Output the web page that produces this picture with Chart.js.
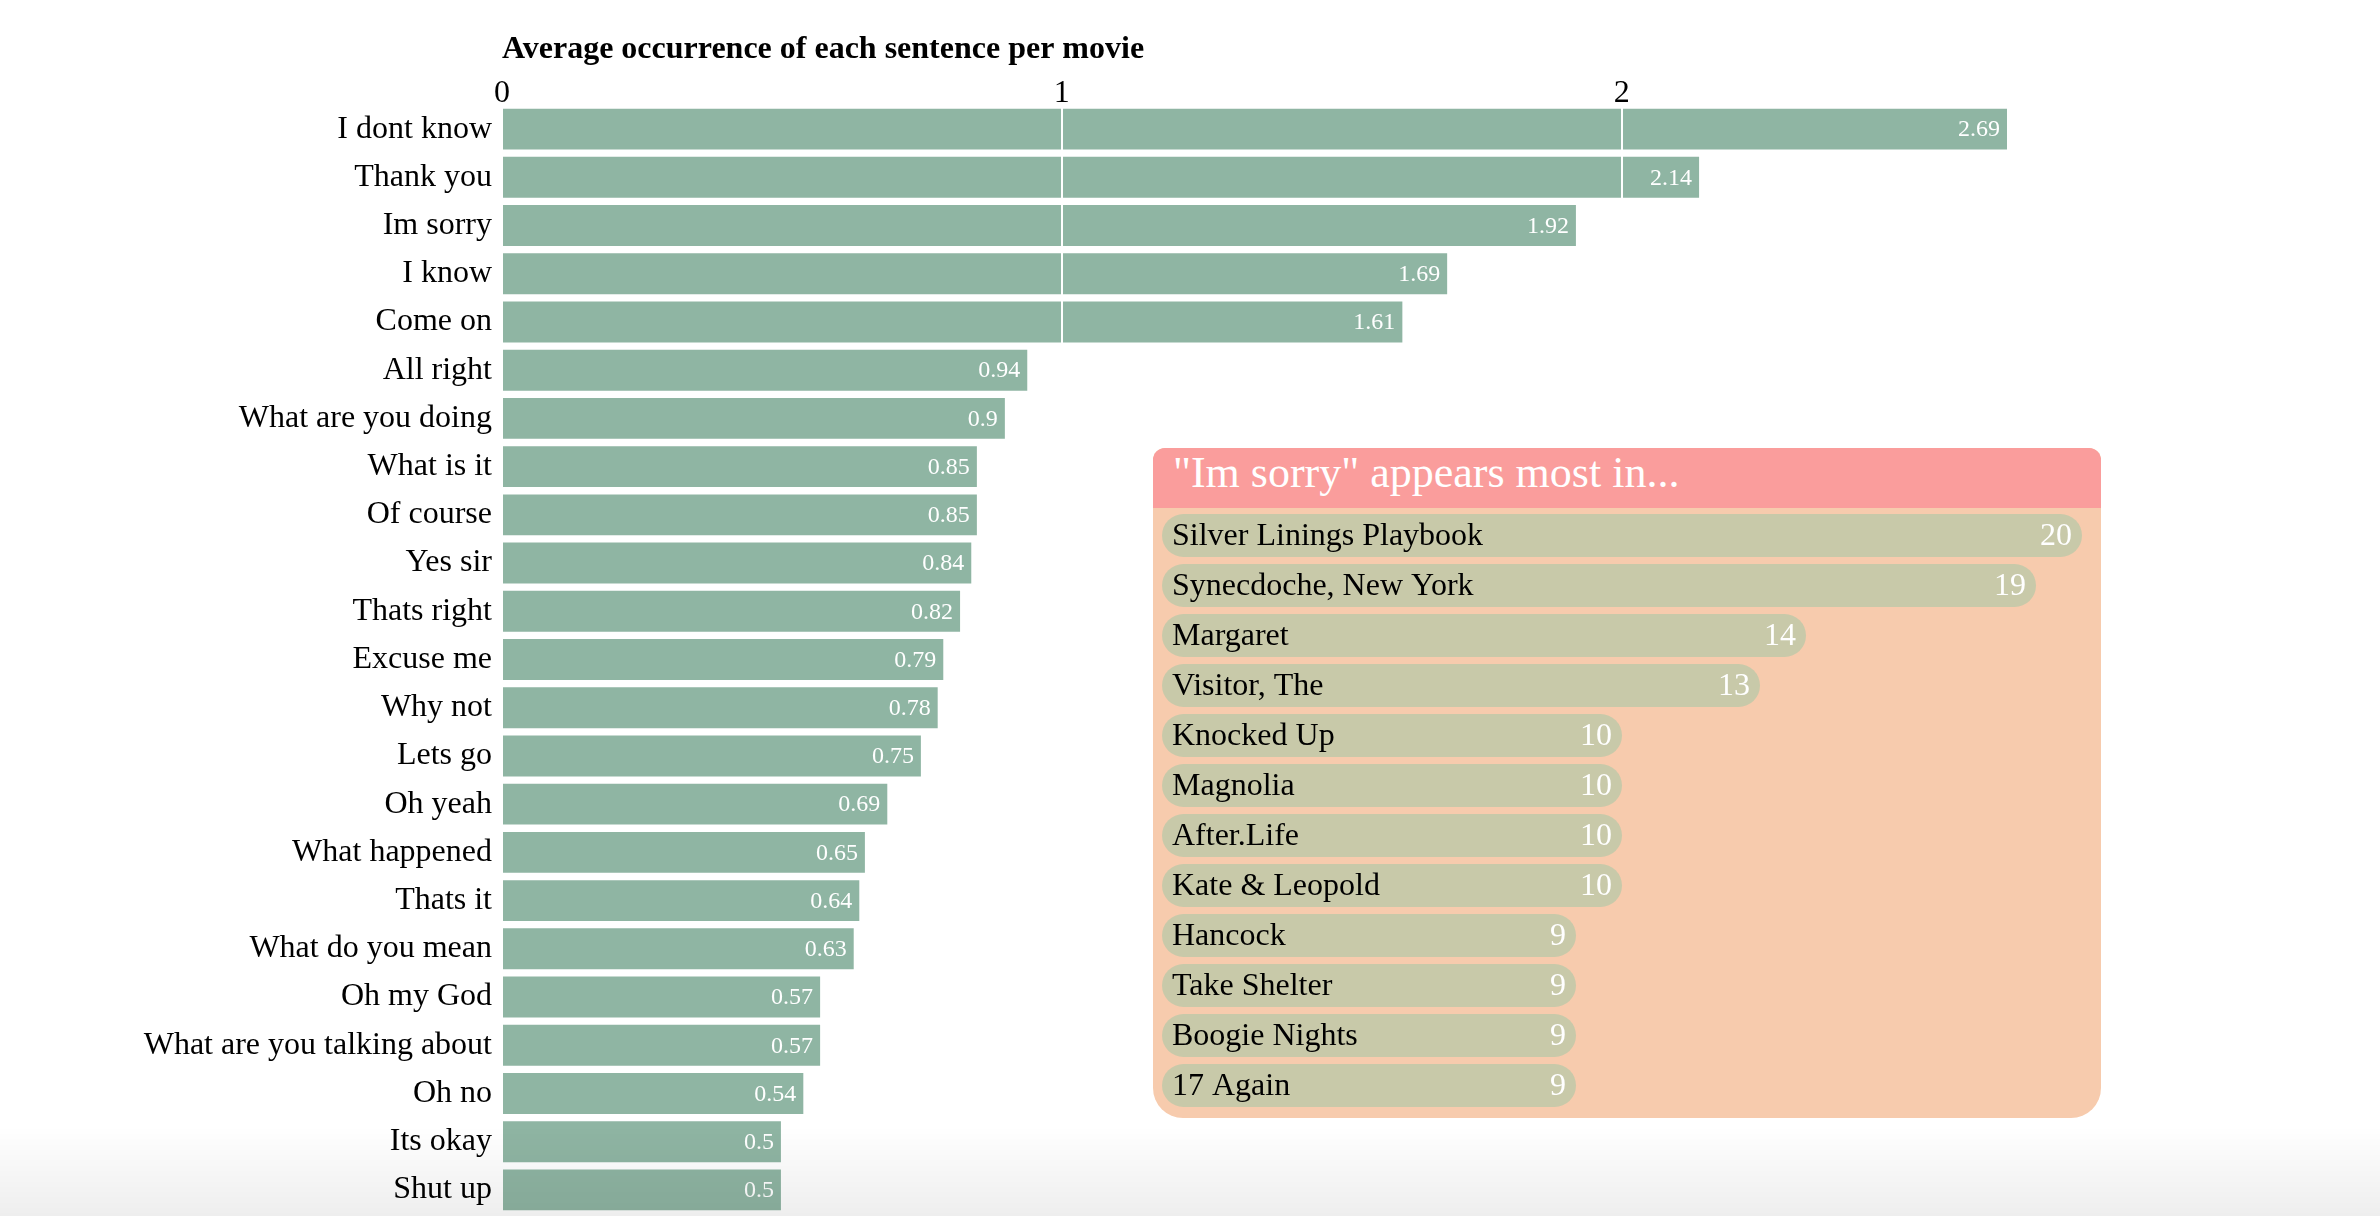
<!DOCTYPE html>
<html>
<head>
<meta charset="utf-8">
<title>Average occurrence of each sentence per movie</title>
<script src="https://cdn.jsdelivr.net/npm/chart.js@4.4.1/dist/chart.umd.min.js"></script>
<style>
  html, body { margin: 0; padding: 0; background: #fff; overflow: hidden; }
  body { width: 2380px; height: 1216px; position: relative; font-family: "Liberation Serif", serif; }
  #main { position: absolute; left: 0; top: 0; }
  #panel {
    position: absolute; left: 1153px; top: 448px; width: 948px; height: 670px;
    background: #f7cbad; border-radius: 12px 12px 30px 30px; overflow: hidden;
  }
  #panel-head {
    height: 60px; line-height: 50px; background: #fa9d9c; color: #fff;
    font-size: 44px; padding-left: 20px; white-space: nowrap;
  }
  #movies { position: absolute; left: 0; top: 60px; }
  #shade {
    position: absolute; left: 0; bottom: 0; width: 2380px; height: 90px; pointer-events: none;
    background: linear-gradient(to bottom, rgba(0,0,0,0), rgba(0,0,0,0.065));
  }
</style>
</head>
<body>
<canvas id="main" width="2380" height="1216"></canvas>
<div id="panel">
  <div id="panel-head"></div>
  <canvas id="movies" width="948" height="610"></canvas>
</div>
<div id="shade"></div>
<script>
const chartTitle = "Average occurrence of each sentence per movie";

const sentences = [
  "I dont know", "Thank you", "Im sorry", "I know", "Come on", "All right",
  "What are you doing", "What is it", "Of course", "Yes sir", "Thats right",
  "Excuse me", "Why not", "Lets go", "Oh yeah", "What happened", "Thats it",
  "What do you mean", "Oh my God", "What are you talking about", "Oh no",
  "Its okay", "Shut up"
];
const avgOccurrence = [
  2.69, 2.14, 1.92, 1.69, 1.61, 0.94, 0.9, 0.85, 0.85, 0.84, 0.82,
  0.79, 0.78, 0.75, 0.69, 0.65, 0.64, 0.63, 0.57, 0.57, 0.54, 0.5, 0.5
];

const focusSentence = "Im sorry";
const movies = [
  "Silver Linings Playbook", "Synecdoche, New York", "Margaret", "Visitor, The",
  "Knocked Up", "Magnolia", "After.Life", "Kate & Leopold",
  "Hancock", "Take Shelter", "Boogie Nights", "17 Again"
];
const movieCounts = [20, 19, 14, 13, 10, 10, 10, 10, 9, 9, 9, 9];

const FONT = "Liberation Serif";
Chart.defaults.font.family = FONT;

document.getElementById("panel-head").textContent = '"' + focusSentence + '" appears most in...';

// title + value labels for the main bars
const mainDecor = {
  id: "mainDecor",
  afterDraw(chart) {
    const ctx = chart.ctx;
    const area = chart.chartArea;
    ctx.save();
    ctx.fillStyle = "#000";
    ctx.font = "bold 32px " + FONT;
    ctx.textAlign = "left";
    ctx.textBaseline = "alphabetic";
    ctx.fillText(chartTitle, area.left, 58);

    ctx.fillStyle = "#fff";
    ctx.font = "24px " + FONT;
    ctx.textAlign = "right";
    ctx.textBaseline = "middle";
    chart.getDatasetMeta(0).data.forEach((bar, i) => {
      ctx.fillText(String(avgOccurrence[i]), bar.x - 8, bar.y + 1);
    });
    ctx.restore();
  }
};

new Chart(document.getElementById("main"), {
  type: "bar",
  data: {
    labels: sentences,
    datasets: [{
      data: avgOccurrence,
      backgroundColor: "#8fb5a3",
      borderColor: "rgba(255,255,255,0.35)",
      borderWidth: 1,
      barPercentage: 0.89,
      categoryPercentage: 1
    }]
  },
  options: {
    indexAxis: "y",
    responsive: false,
    animation: false,
    layout: { padding: { left: 0, top: 0, right: 372, bottom: 2 } },
    plugins: { legend: { display: false }, tooltip: { enabled: false }, title: { display: false } },
    scales: {
      x: {
        position: "top",
        min: 0,
        max: Math.max(...avgOccurrence),
        grid: { color: "#fff", lineWidth: 2, drawTicks: false, z: 1 },
        border: { display: false },
        ticks: { stepSize: 1, includeBounds: false, color: "#000", font: { size: 32 }, padding: -8 },
        afterFit(scale) {
          scale.height = 105;
          scale.paddingLeft = 0;
          scale.paddingRight = 0;
        }
      },
      y: {
        grid: { display: false, drawTicks: false },
        border: { display: false },
        ticks: { color: "#000", font: { size: 32 }, padding: 10 },
        afterFit(scale) {
          scale.width = 502;
          scale.paddingTop = 0;
          scale.paddingBottom = 0;
        }
      }
    }
  },
  plugins: [mainDecor]
});

// names and counts inside the pills
const pillLabels = {
  id: "pillLabels",
  afterDatasetsDraw(chart) {
    const ctx = chart.ctx;
    ctx.save();
    ctx.font = "32px " + FONT;
    ctx.textBaseline = "middle";
    chart.getDatasetMeta(0).data.forEach((bar, i) => {
      ctx.fillStyle = "#000";
      ctx.textAlign = "left";
      ctx.fillText(movies[i], bar.base + 10, bar.y + 1);
      ctx.fillStyle = "#fff";
      ctx.textAlign = "right";
      ctx.fillText(String(movieCounts[i]), bar.x - 10, bar.y + 1);
    });
    ctx.restore();
  }
};

new Chart(document.getElementById("movies"), {
  type: "bar",
  data: {
    labels: movies,
    datasets: [{
      data: movieCounts,
      backgroundColor: "#c8c9a9",
      borderRadius: 22,
      borderSkipped: false,
      barPercentage: 0.86,
      categoryPercentage: 1
    }]
  },
  options: {
    indexAxis: "y",
    responsive: false,
    animation: false,
    layout: { padding: { left: 9, right: 19, top: 2.5, bottom: 7.5 } },
    plugins: { legend: { display: false }, tooltip: { enabled: false } },
    scales: {
      x: { display: false, min: 0, max: Math.max(...movieCounts) },
      y: { display: false }
    }
  },
  plugins: [pillLabels]
});
</script>
</body>
</html>
